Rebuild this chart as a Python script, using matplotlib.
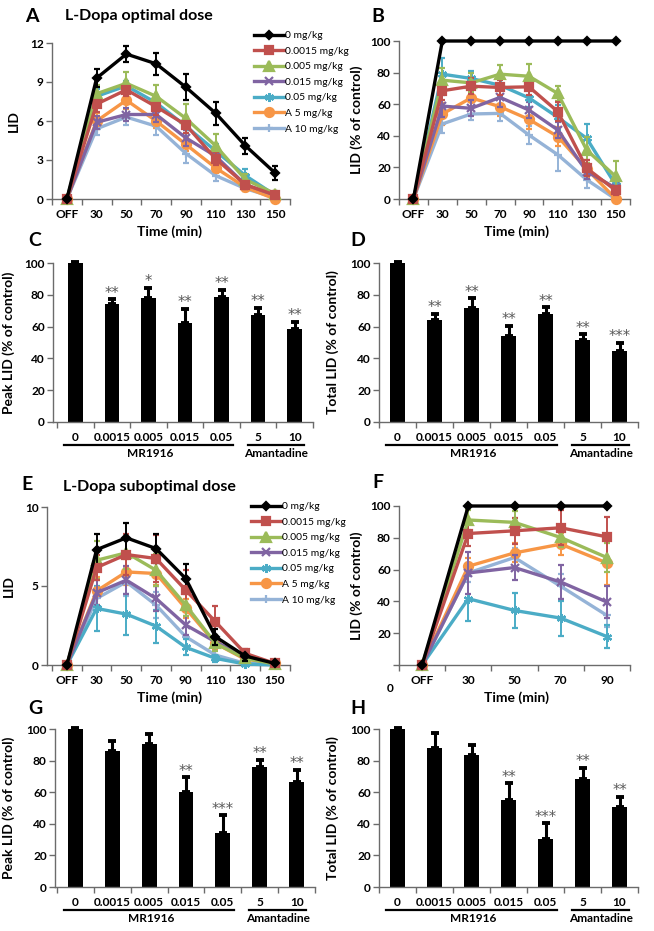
import matplotlib
matplotlib.use('Agg')
import matplotlib.pyplot as plt

W, H = 654, 931
plt.rcParams['font.family'] = ['Lato', 'DejaVu Sans']
plt.rcParams['font.weight'] = 'bold'

# ---------------- data ----------------
time_labels = ['OFF', '30', '50', '70', '90', '110', '130', '150']
time_labels_f = ['OFF', '30', '50', '70', '90']
series_names = ['0 mg/kg', '0.0015 mg/kg', '0.005 mg/kg', '0.015 mg/kg',
                '0.05 mg/kg', 'A 5 mg/kg', 'A 10 mg/kg']
dose_labels = ['0', '0.0015', '0.005', '0.015', '0.05', '5', '10']

# Panel A: LID, optimal dose (rows = series)
A_lid = [
    [0, 9.3, 11.15, 10.4, 8.6, 6.6, 4.1, 2.0],
    [0, 7.3, 8.4, 7.1, 5.7, 3.1, 1.1, 0.3],
    [0, 8.1, 8.9, 7.9, 6.2, 4.1, 1.5, 0.4],
    [0, 5.9, 6.5, 6.5, 4.7, 3.3, 1.1, 0.3],
    [0, 7.9, 8.7, 7.4, 5.6, 3.7, 1.8, 0.3],
    [0, 6.0, 7.6, 6.0, 4.2, 2.4, 0.9, 0.0],
    [0, 5.4, 6.3, 5.6, 3.5, 1.8, 0.8, 0.1],
]
A_err = [
    [0, 0.7, 0.6, 0.85, 1.0, 0.9, 0.6, 0.55],
    [0, 0.6, 0.5, 0.6, 0.6, 0.5, 0.3, 0.2],
    [0, 0.7, 0.9, 0.85, 1.1, 0.9, 0.4, 0.2],
    [0, 0.5, 0.5, 0.6, 0.6, 0.5, 0.3, 0.2],
    [0, 0.6, 0.4, 0.6, 0.5, 0.5, 0.5, 0.2],
    [0, 0.6, 0.7, 0.5, 0.5, 0.4, 0.3, 0.1],
    [0, 0.5, 0.6, 0.7, 0.7, 0.4, 0.2, 0.1],
]
# Panel B: LID % of control, optimal dose
B_pct = [
    [0, 100, 100, 100, 100, 100, 100, 100],
    [0, 68.5, 71.4, 70.6, 71.0, 55.3, 19.5, 5.5],
    [0, 75.2, 73.5, 79.0, 77.7, 66.8, 31.0, 14.3],
    [0, 58.8, 57.4, 64.3, 56.3, 43.7, 17.4, 7.0],
    [0, 79.0, 76.3, 72.0, 64.0, 51.7, 38.4, 9.0],
    [0, 53.8, 64.0, 58.4, 50.4, 39.5, 19.0, 0.2],
    [0, 47.5, 53.8, 54.2, 40.5, 28.0, 12.2, 0.0],
]
B_err = [
    [0, 0, 0, 0, 0, 0, 0, 0],
    [0, 6, 5, 5, 5, 6, 5, 3],
    [0, 8, 6, 6, 8, 5, 8, 10],
    [0, 7, 5, 6, 5, 5, 5, 3],
    [0, 10, 5, 7, 6, 8, 9, 5],
    [0, 7, 6, 6, 6, 6, 6, 1],
    [0, 6, 4, 5, 6, 10, 5, 1],
]
# Panel C / D: peak and total LID, optimal dose
C_peak = [100, 74.1, 78.3, 62.1, 78.5, 67.4, 58.5]
C_err = [0.6, 3.0, 6.0, 9.0, 4.7, 4.6, 4.6]
C_stars = ['', '**', '*', '**', '**', '**', '**']
D_total = [100, 64.2, 71.6, 54.1, 67.8, 51.6, 44.8]
D_err = [0.6, 3.8, 6.3, 6.3, 4.4, 3.6, 5.0]
D_stars = ['', '**', '**', '**', '**', '**', '***']

# Panel E: LID, suboptimal dose
E_lid = [
    [0, 7.3, 8.05, 7.37, 5.47, 1.79, 0.57, 0.1],
    [0, 6.17, 6.99, 6.74, 4.74, 2.74, 0.74, 0.1],
    [0, 6.63, 7.1, 6.0, 3.79, 1.37, 0.42, 0.06],
    [0, 4.57, 5.37, 4.21, 2.53, 1.47, 0.53, 0.06],
    [0, 3.58, 3.22, 2.46, 1.12, 0.42, 0.06, 0.0],
    [0, 4.69, 5.89, 5.79, 3.58, 1.37, 0.36, 0.15],
    [0, 4.21, 5.26, 3.79, 1.79, 0.63, 0.1, 0.06],
]
E_err = [
    [0, 1.0, 0.95, 0.9, 0.9, 0.5, 0.3, 0.1],
    [0, 0.8, 1.3, 1.5, 1.26, 1.0, 0.3, 0.1],
    [0, 1.2, 1.0, 1.0, 0.7, 0.5, 0.2, 0.1],
    [0, 0.8, 0.9, 0.8, 0.6, 0.4, 0.2, 0.1],
    [0, 1.4, 1.3, 1.05, 0.5, 0.2, 0.1, 0.0],
    [0, 0.9, 0.8, 0.7, 0.6, 0.4, 0.2, 0.1],
    [0, 0.7, 0.9, 0.8, 0.6, 0.3, 0.1, 0.1],
]
# Panel F: LID % of control, suboptimal dose
F_pct = [
    [0, 100, 100, 100, 100],
    [0, 82.7, 84.4, 86.3, 80.6],
    [0, 91.2, 89.7, 80.2, 67.6],
    [0, 57.9, 61.3, 52.2, 39.6],
    [0, 41.7, 34.3, 29.5, 17.9],
    [0, 62.1, 70.5, 76.0, 64.2],
    [0, 57.9, 67.6, 49.5, 31.2],
]
F_err = [
    [0, 0, 0, 0, 0],
    [0, 8, 8, 11, 12.6],
    [0, 6, 7, 6, 9],
    [0, 13, 8, 11, 10],
    [0, 14, 11, 11, 7],
    [0, 5, 6, 7, 14],
    [0, 6, 6, 8, 7],
]
# Panel G / H: peak and total LID, suboptimal dose
G_peak = [100, 86.1, 90.5, 60.4, 34.1, 75.8, 66.5]
G_err = [0.6, 6.5, 6.3, 9.0, 11.2, 4.6, 7.6]
G_stars = ['', '', '', '**', '***', '**', '**']
H_total = [100, 87.8, 83.6, 55.2, 30.3, 68.6, 50.9]
H_err = [0.6, 9.5, 6.3, 10.5, 10.1, 7.0, 6.3]
H_stars = ['', '', '', '**', '***', '**', '**']

# ---------------- style ----------------
colors = ['#000000', '#C0504D', '#9BBB59', '#8064A2', '#4BACC6', '#F79646', '#95B3D7']
markers = ['D', 's', '^', 'x', (6, 2, 0), 'o', '+']
msizes = [4.5, 6, 6.5, 5.5, 6.5, 6.5, 5.5]
AXC = '#6b6b6b'
TFS = 8.6
LFS = 10

fig = plt.figure(figsize=(W / 100, H / 100), dpi=100)


def add_ax(l, t, r, b):
    return fig.add_axes([l / W, 1 - b / H, (r - l) / W, (b - t) / H])


def style(ax, ylabel, ylab_x):
    for s in ['top', 'right']:
        ax.spines[s].set_visible(False)
    for s in ['left', 'bottom']:
        ax.spines[s].set_color(AXC)
        ax.spines[s].set_linewidth(1.0)
    ax.tick_params(axis='y', direction='out', length=4, width=1, color=AXC,
                   labelsize=TFS, pad=2)
    ax.tick_params(axis='x', which='major', length=0, labelsize=TFS, pad=7)
    ax.tick_params(axis='x', which='minor', direction='out', length=4, width=1,
                   color=AXC)
    ax.set_ylabel(ylabel, fontsize=LFS, fontweight='bold')
    bb = ax.get_position()
    ax.yaxis.set_label_coords((ylab_x / W - bb.x0) / bb.width, 0.5)


def line_panel(ax, vals, errs, xlabels, xlim, ylim, yticks, ylabel, ylab_x):
    x = list(range(len(xlabels)))
    handles = []
    for i in range(len(vals)):
        c = ax.errorbar(x, vals[i], yerr=errs[i], color=colors[i], marker=markers[i],
                        ms=msizes[i], mew=1.6, lw=2.4, elinewidth=1.4, capsize=2,
                        capthick=1.4, clip_on=False, zorder=3 + (7 - i) * 0.1)
        handles.append(c[0])
    ax.set_xlim(*xlim)
    ax.set_ylim(*ylim)
    ax.set_yticks(yticks)
    ax.set_xticks(x)
    ax.set_xticklabels(xlabels)
    ax.set_xticks([v + 0.5 for v in [-1] + x], minor=True)
    style(ax, ylabel, ylab_x)
    return handles


def bar_panel(ax, vals, errs, stars, xlim, ylabel, ylab_x):
    x = list(range(len(vals)))
    ax.bar(x, vals, width=0.4, color='black', zorder=2)
    eb = ax.errorbar(x, vals, yerr=[[0] * len(errs), errs], fmt='none', ecolor='black',
                     elinewidth=2.2, capsize=2.8, capthick=2.8, zorder=3)
    for art in eb.lines[1] + eb.lines[2]:
        art.set_clip_on(False)
    for xi, v, e, s in zip(x, vals, errs, stars):
        if s:
            ax.annotate(s, (xi, v + e), xytext=(0, -1), textcoords='offset points',
                        ha='center', va='bottom', fontsize=10.5, fontweight='normal',
                        color='#595959', family='DejaVu Sans')
    ax.set_xlim(*xlim)
    ax.set_ylim(0, 100)
    ax.set_yticks(range(0, 101, 20))
    ax.set_xticks(x)
    ax.set_xticklabels(dose_labels)
    ax.set_xticks([v + 0.5 for v in [-1] + x], minor=True)
    style(ax, ylabel, ylab_x)
    # group underlines and labels
    hpx = ax.get_position().height * H
    tr = ax.get_xaxis_transform()
    yl = -22.5 / hpx
    ax.plot([-0.3, 4.3], [yl, yl], transform=tr, clip_on=False, color='black', lw=1.6)
    ax.plot([4.72, 6.25], [yl, yl], transform=tr, clip_on=False, color='black', lw=1.6)
    ax.text(2.05, -31.5 / hpx, 'MR1916', transform=tr, ha='center', va='center',
            fontsize=TFS)
    ax.text(5.5, -31.5 / hpx, 'Amantadine', transform=tr, ha='center', va='center',
            fontsize=TFS)


def legend(ax, handles, x_px, y_px):
    ax.legend(handles, series_names, loc='upper left',
              bbox_to_anchor=(x_px / W, 1 - y_px / H), bbox_transform=fig.transFigure,
              frameon=False, handlelength=2.9, handletextpad=0.1,
              labelspacing=0.62, borderpad=0, borderaxespad=0, numpoints=1,
              prop={'size': 7.4, 'weight': 'normal'})


# Panel A
axA = add_ax(52, 43, 290, 199)
hA = line_panel(axA, A_lid, A_err, time_labels, (-0.45, 7.5), (0, 12),
                [0, 3, 6, 9, 12], 'LID', 20)
legend(axA, hA, 254, 31)
fig.text(170 / W, 1 - 232 / H, 'Time (min)', ha='center', va='center', fontsize=LFS)

# Panel B
axB = add_ax(399, 41, 630, 199)
line_panel(axB, B_pct, B_err, time_labels, (-0.5, 7.5), (0, 100),
           range(0, 101, 20), 'LID (% of control)', 363)
fig.text(517 / W, 1 - 232 / H, 'Time (min)', ha='center', va='center', fontsize=LFS)

# Panel C
axC = add_ax(53, 263, 313, 422)
bar_panel(axC, C_peak, C_err, C_stars, (-0.61, 6.29), 'Peak LID (% of control)', 15)

# Panel D
axD = add_ax(379, 263, 638, 422)
bar_panel(axD, D_total, D_err, D_stars, (-0.47, 6.26), 'Total LID (% of control)', 339)

# Panel E
axE = add_ax(47, 507, 290, 665)
hE = line_panel(axE, E_lid, E_err, time_labels, (-0.67, 7.51), (0, 10),
                [0, 5, 10], 'LID', 15)
legend(axE, hE, 251, 502)
fig.text(170 / W, 1 - 698 / H, 'Time (min)', ha='center', va='center', fontsize=LFS)

# Panel F
axF = add_ax(399, 506, 630, 665)
line_panel(axF, F_pct, F_err, time_labels_f, (-0.5, 4.5), (0, 100),
           range(0, 101, 20), 'LID (% of control)', 363)
axF.set_yticklabels(['', '20', '40', '60', '80', '100'])
fig.text(390 / W, 1 - 688 / H, '0', ha='center', va='center', fontsize=TFS)
fig.text(517 / W, 1 - 698 / H, 'Time (min)', ha='center', va='center', fontsize=LFS)

# Panel G
axG = add_ax(55, 729, 315, 887)
bar_panel(axG, G_peak, G_err, G_stars, (-0.555, 6.32), 'Peak LID (% of control)', 15)

# Panel H
axH = add_ax(379, 729, 638, 887)
bar_panel(axH, H_total, H_err, H_stars, (-0.47, 6.26), 'Total LID (% of control)', 339)

# Titles and panel letters
fig.text(65 / W, 1 - 16 / H, 'L-Dopa optimal dose', ha='left', va='center', fontsize=11.5)
fig.text(63 / W, 1 - 487 / H, 'L-Dopa suboptimal dose', ha='left', va='center', fontsize=11.5)
for letter, xp, yp in [('A', 32, 17), ('B', 378, 17), ('C', 35, 240), ('D', 358, 240),
                       ('E', 27, 485), ('F', 378, 483), ('G', 35, 708), ('H', 358, 708)]:
    fig.text(xp / W, 1 - yp / H, letter, ha='center', va='center', fontsize=14,
             fontweight='bold')

fig.savefig('out.png', dpi=100)
